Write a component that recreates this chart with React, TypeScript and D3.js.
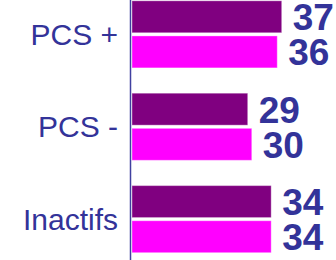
import React, { useEffect, useRef } from "react";
import * as d3 from "d3";

// categories and the two series
const categories: string[] = ["PCS +", "PCS -", "Inactifs"];
const seriesKeys: string[] = ["s1", "s2"];
const series1: number[] = [37.0, 28.6, 34.4];
const series2: number[] = [35.9, 29.6, 34.4];
const seriesColors: string[] = ["#800080", "#FF00FF"];

const width = 336;
const height = 260;

function App() {
  const svgRef = useRef<SVGSVGElement>(null);

  useEffect(() => {
    document.body.style.margin = "0";
    if (!svgRef.current) return;

    const svg = d3.select(svgRef.current);
    svg.selectAll("*").remove();

    const textColor = "#333399";
    const font = "'Liberation Sans', Arial, sans-serif";

    // x scale: value to pixels
    const x = d3.scaleLinear().domain([0, 50]).range([132, 132 + 50 * 4.046]);

    // group band + sub band for the two bars
    const y0 = d3
      .scaleBand<string>()
      .domain(categories)
      .range([0.8, 252.7])
      .paddingInner(0.274)
      .paddingOuter(0);

    const y1 = d3
      .scaleBand<string>()
      .domain(seriesKeys)
      .range([0, y0.bandwidth()])
      .paddingInner(0.09);

    const rows = categories.map((c, i) => ({
      name: c,
      values: [series1[i], series2[i]],
    }));

    const groups = svg
      .selectAll(".grp")
      .data(rows)
      .enter()
      .append("g")
      .attr("class", "grp")
      .attr("transform", (d) => `translate(0, ${y0(d.name)})`);

    // bars
    groups
      .selectAll("rect")
      .data((d) => d.values.map((v, j) => ({ key: seriesKeys[j], v, j })))
      .enter()
      .append("rect")
      .attr("x", x(0))
      .attr("y", (d) => y1(d.key) as number)
      .attr("width", (d) => x(d.v) - x(0))
      .attr("height", y1.bandwidth())
      .attr("fill", (d) => seriesColors[d.j])
      .attr("stroke", "#ffffff")
      .attr("stroke-opacity", 0.35)
      .attr("stroke-width", 1);

    // value labels
    groups
      .selectAll("text.val")
      .data((d) => d.values.map((v, j) => ({ key: seriesKeys[j], v })))
      .enter()
      .append("text")
      .attr("class", "val")
      .attr("x", (d) => x(d.v) + 11)
      .attr("y", (d) => (y1(d.key) as number) + y1.bandwidth() / 2 + 13.5)
      .attr("text-anchor", "start")
      .style("font-family", font)
      .style("font-size", "37px")
      .style("font-weight", "bold")
      .style("fill", textColor)
      .text((d) => Math.round(d.v).toString());

    // category labels
    groups
      .append("text")
      .attr("x", 118)
      .attr("y", y0.bandwidth() / 2)
      .attr("dy", "0.35em")
      .attr("text-anchor", "end")
      .style("font-family", font)
      .style("font-size", "30px")
      .style("fill", textColor)
      .text((d) => d.name);

    // vertical axis line
    svg
      .append("line")
      .attr("x1", 130.5)
      .attr("x2", 130.5)
      .attr("y1", 0)
      .attr("y2", height)
      .attr("stroke", "#4040a0")
      .attr("stroke-width", 1.5);
  }, []);

  return <svg ref={svgRef} width={width} height={height} style={{ display: "block" }}></svg>;
}

export default App;
